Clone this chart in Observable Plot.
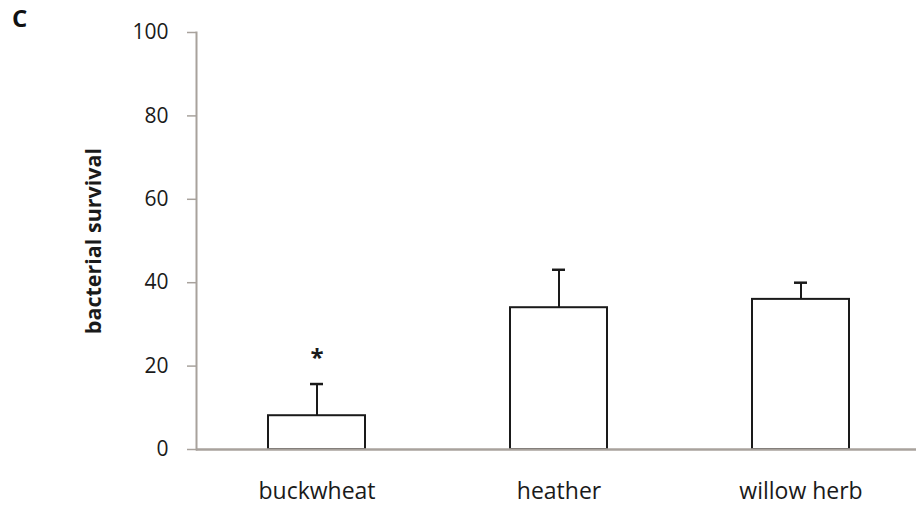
<!DOCTYPE html>
<html>
<head>
<meta charset="utf-8">
<script src="https://cdn.jsdelivr.net/npm/d3@7"></script>
<script src="https://cdn.jsdelivr.net/npm/@observablehq/plot@0.6"></script>
<style>
  html, body { margin: 0; padding: 0; background: #fff; }
  #wrap { position: relative; width: 916px; height: 506px; }
  #panel { position: absolute; left: 12px; top: 1px; font: bold 24px "Open Sans", sans-serif; color: #111; }
</style>
</head>
<body>
<div id="wrap"><div id="panel">C</div></div>
<script>
const categories = ["buckwheat", "heather", "willow herb"];
const means = [8.1, 34, 36];
const errors = [7.6, 9.1, 4];
const significance = ["*", "", ""];
const yTicks = [0, 20, 40, 60, 80, 100];
const yLabel = "bacterial survival";

const data = categories.map((c, i) => ({
  cat: c, mean: means[i], upper: means[i] + errors[i], sig: significance[i]
}));

const axisColor = "#a8a29c";
const ink = "#1a1a1a";
const font = "'Open Sans', sans-serif";

const chart = Plot.plot({
  width: 916,
  height: 506,
  marginLeft: 196,
  marginRight: 0,
  marginTop: 32,
  marginBottom: 57,
  style: { fontFamily: font, fontSize: "21px", color: ink, background: "white" },
  x: { domain: categories, range: [195, 921], paddingInner: 0.6, paddingOuter: 0.3 },
  y: { domain: [0, 100] },
  marks: [
    Plot.axisY({ ticks: yTicks, tickSize: 9, tickPadding: 19, stroke: axisColor, strokeWidth: 1.5, fill: ink, label: null, fontSize: 21 }),
    Plot.axisX({ tickSize: 0, tickPadding: 33, label: null, fill: ink, fontSize: 23 }),
    Plot.frame({ anchor: "left", stroke: axisColor, strokeWidth: 2 }),
    Plot.ruleX(data, { x: "cat", y1: "mean", y2: "upper", stroke: ink, strokeWidth: 2 }),
    Plot.tickY(data, { x: "cat", y: "upper", stroke: ink, strokeWidth: 2.5, insetLeft: 42, insetRight: 42 }),
    Plot.barY(data, { x: "cat", y: "mean", fill: "white", stroke: ink, strokeWidth: 2 }),
    Plot.ruleY([0], { stroke: axisColor, strokeWidth: 2.5 }),
    Plot.text(data, { x: "cat", y: "upper", text: "sig", dy: -26, fontSize: 24, fontWeight: "bold", fill: ink }),
    Plot.text([yLabel], { frameAnchor: "left", rotate: -90, textAnchor: "middle", dx: -102, fontWeight: "bold", fontSize: 21.5, fill: ink })
  ]
});
document.getElementById("wrap").appendChild(chart);
</script>
</body>
</html>
